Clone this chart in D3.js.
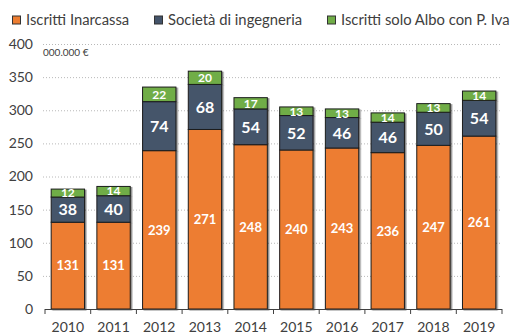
<!DOCTYPE html>
<html>
<head>
<meta charset="utf-8">
<script src="https://cdn.jsdelivr.net/npm/d3@7"></script>
<style>
  html, body { margin: 0; padding: 0; background: #fff; }
  svg { display: block; font-family: Lato, "Noto Sans", sans-serif; }
</style>
</head>
<body>
<svg id="chart" width="513" height="335"></svg>
<script>
// Contributi per anno (000.000 €)
const years = ["2010", "2011", "2012", "2013", "2014", "2015", "2016", "2017", "2018", "2019"];
const inarcassa = [131, 131, 239, 271, 248, 240, 243, 236, 247, 261];
const societa   = [38, 40, 74, 68, 54, 52, 46, 46, 50, 54];
const albo      = [12, 14, 22, 20, 17, 13, 13, 14, 13, 14];
const seriesNames = ["Iscritti Inarcassa", "Società di ingegneria", "Iscritti solo Albo con P. Iva"];
const yTicks = [0, 50, 100, 150, 200, 250, 300, 350, 400];
const unitLabel = "000.000 €";

const colors = ["#ED7D31", "#44546A", "#70AD47"];
const labelSizes = [13, 16, 12];

const svg = d3.select("#chart");
const margin = { left: 45, right: 11, top: 44, bottom: 26 };
const W = 513, H = 335;

const x = d3.scaleBand().domain(years).range([margin.left, W - margin.right])
  .paddingInner(0.27).paddingOuter(0.135);
const y = d3.scaleLinear().domain([0, 400]).range([H - margin.bottom, margin.top]);

const rows = years.map((yr, i) => ({ year: yr, s0: inarcassa[i], s1: societa[i], s2: albo[i] }));
const stacked = d3.stack().keys(["s0", "s1", "s2"])(rows);

// soft shadow behind bars
const defs = svg.append("defs");
const f = defs.append("filter").attr("id", "shadow").attr("x", "-20%").attr("y", "-20%")
  .attr("width", "150%").attr("height", "150%");
f.append("feDropShadow").attr("dx", 1.5).attr("dy", 1).attr("stdDeviation", 0.6)
  .attr("flood-color", "#000").attr("flood-opacity", 0.45);

// gridlines
svg.append("g").selectAll("line").data(yTicks.slice(1)).join("line")
  .attr("x1", margin.left - 2).attr("x2", W - margin.right)
  .attr("y1", d => y(d) + 0.5).attr("y2", d => y(d) + 0.5)
  .attr("stroke", "#b8b8b8").attr("stroke-width", 1).attr("stroke-dasharray", "1,2");

// y tick labels
svg.append("g").selectAll("text").data(yTicks).join("text")
  .attr("x", 33).attr("y", d => y(d)).attr("dy", "0.35em")
  .attr("text-anchor", "end").attr("font-size", 14).attr("fill", "#404040")
  .text(d => d);

svg.append("text").attr("x", 43).attr("y", 56).attr("font-size", 10)
  .attr("fill", "#404040").text(unitLabel);

// stacked bars
const layers = svg.append("g").attr("filter", "url(#shadow)");
stacked.forEach((layer, k) => {
  layers.append("g").selectAll("rect").data(layer).join("rect")
    .attr("x", d => x(d.data.year))
    .attr("width", x.bandwidth())
    .attr("y", d => y(d[1]))
    .attr("height", d => y(d[0]) - y(d[1]))
    .attr("fill", colors[k])
    .attr("stroke", "#1c1c1c").attr("stroke-width", 1);
});

// value labels
stacked.forEach((layer, k) => {
  svg.append("g").selectAll("text").data(layer).join("text")
    .attr("x", d => x(d.data.year) + x.bandwidth() / 2)
    .attr("y", d => (y(d[0]) + y(d[1])) / 2)
    .attr("dy", "0.36em")
    .attr("text-anchor", "middle")
    .attr("font-size", labelSizes[k]).attr("font-weight", "bold").attr("fill", "#fff")
    .text(d => d[1] - d[0]);
});

// x axis
const xAxisY = y(0);
svg.append("line").attr("x1", margin.left).attr("x2", W - margin.right)
  .attr("y1", xAxisY + 0.5).attr("y2", xAxisY + 0.5).attr("stroke", "#404040");
const step = x.step();
const bounds = years.map((yr) => x(yr) - (step - x.bandwidth()) / 2).concat([W - margin.right]);
svg.append("g").selectAll("line").data(bounds).join("line")
  .attr("x1", d => d).attr("x2", d => d)
  .attr("y1", xAxisY).attr("y2", xAxisY + 5).attr("stroke", "#404040");
svg.append("g").selectAll("text").data(years).join("text")
  .attr("x", d => x(d) + x.bandwidth() / 2).attr("y", 327).attr("dy", "0.35em")
  .attr("text-anchor", "middle").attr("font-size", 14).attr("fill", "#404040")
  .text(d => d);

// legend
const legendX = [12, 154, 327];
const lg = svg.append("g").selectAll("g").data(seriesNames).join("g")
  .attr("transform", (d, i) => `translate(${legendX[i]},20)`);
lg.append("rect").attr("x", 0.5).attr("y", -4).attr("width", 8).attr("height", 8)
  .attr("fill", (d, i) => colors[i]).attr("stroke", "#333").attr("stroke-width", 1);
lg.append("text").attr("x", 14).attr("dy", "0.35em").attr("font-size", 14.8)
  .attr("fill", "#404040").text(d => d);
</script>
</body>
</html>
